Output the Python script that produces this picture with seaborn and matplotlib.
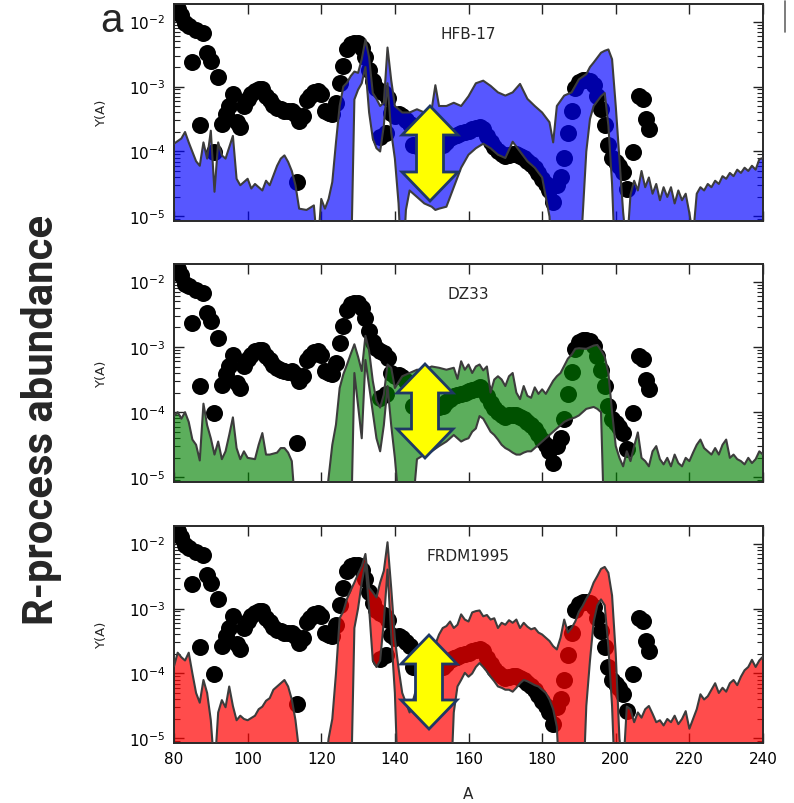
import numpy as np
import matplotlib
matplotlib.use("Agg")
import matplotlib.pyplot as plt
import seaborn as sns
from matplotlib.patches import Polygon
from matplotlib.lines import Line2D
from matplotlib.ticker import LogLocator, NullFormatter
from matplotlib import font_manager as fm

# ---------------- data (log10 of abundances) ----------------
# solar r-process abundances (black dots)
dots_A = [80, 81, 82, 83, 84, 85, 86, 87, 88, 89,
          90, 91, 92, 93, 94, 95, 96, 97, 98, 99,
          100, 101, 102, 103, 104, 105, 106, 107, 108, 109,
          110, 111, 112, 113, 113.3, 114, 115, 116, 117, 118,
          119, 120, 121, 122, 123, 124, 125, 126, 127, 128,
          129, 130, 131, 132, 133, 134, 135, 136, 136, 137,
          137.5, 138, 139, 140, 141, 142, 143, 144, 145, 146,
          147, 148, 149, 150, 151, 152, 153, 154, 155, 156,
          157, 158, 159, 160, 161, 162, 163, 164, 165, 166,
          167, 168, 169, 170, 171, 172, 173, 174, 175, 176,
          177, 178, 179, 180, 181, 182, 183, 184, 185, 186,
          187, 188, 189, 190, 191, 192, 193, 194, 195, 196,
          197, 198, 199, 200, 201, 202, 203, 204.6, 206.4, 207.3,
          208.2, 209.1]
dots_logY = [-1.72, -1.80, -1.90, -2.03, -2.07, -2.63, -2.13, -3.60, -2.17, -2.48,
             -2.60, -4.01, -2.86, -3.58, -3.42, -3.30, -3.12, -3.55, -3.63, -3.30,
             -3.19, -3.12, -3.07, -3.04, -3.04, -3.14, -3.20, -3.28, -3.33, -3.35,
             -3.37, -3.38, -3.37, -3.42, -4.47, -3.53, -3.45, -3.20, -3.14, -3.08,
             -3.07, -3.12, -3.37, -3.40, -3.42, -3.25, -2.94, -2.68, -2.43, -2.35,
             -2.33, -2.33, -2.40, -2.55, -2.75, -2.92, -3.02, -3.07, -3.78, -3.10,
             -3.72, -3.17, -3.40, -3.45, -3.43, -3.46, -3.52, -3.58, -3.90, -3.92,
             -3.95, -3.97, -3.97, -3.95, -3.93, -3.92, -3.90, -3.85, -3.80, -3.76,
             -3.74, -3.72, -3.70, -3.68, -3.66, -3.64, -3.62, -3.66, -3.76, -3.86,
             -3.93, -3.99, -4.04, -4.07, -4.05, -4.04, -4.04, -4.07, -4.10, -4.15,
             -4.20, -4.26, -4.33, -4.42, -4.50, -4.60, -4.78, -4.52, -4.40, -4.10,
             -3.72, -3.38, -3.03, -2.93, -2.90, -2.90, -2.91, -2.98, -3.14, -3.35,
             -3.60, -3.90, -4.10, -4.16, -4.22, -4.32, -4.57, -4.01, -3.14, -3.19,
             -3.50, -3.65]

# HFB-17 band
hfb_A = [80, 82, 83, 84, 86, 87, 88, 89, 90, 91,
         92, 93, 94, 96, 97, 98, 100, 101, 102, 104,
         105, 106, 108, 109, 110, 111, 112, 113, 114, 116,
         118, 119, 120, 121, 122, 123, 124, 125, 126, 127,
         128, 129, 130, 131, 132, 133, 134, 135, 136, 137,
         138, 139, 140, 141, 142, 143, 144, 146, 148, 150,
         151, 152, 154, 156, 158, 160, 162, 164, 166, 168,
         170, 172, 174, 176, 178, 180, 182, 183, 184, 186,
         188, 190, 191, 192, 193, 194, 196, 197, 198, 199,
         200, 201, 202, 203, 204, 205, 206, 207, 208, 209,
         210, 211, 212, 213, 214, 215, 216, 217, 218, 219,
         220, 221, 222, 223, 224, 225, 226, 227, 228, 229,
         230, 231, 232, 233, 234, 235, 236, 237, 238, 239, 240]
hfb_up = [-3.88, -3.80, -3.70, -3.86, -4.15, -4.22, -3.86, -4.11, -3.68, -4.62,
          -3.86, -4.06, -4.11, -3.76, -4.42, -4.52, -4.42, -4.57, -4.50, -4.60,
          -4.45, -4.52, -4.22, -4.11, -4.06, -4.16, -4.30, -4.52, -4.88, -4.90,
          -4.83, -5.50, -4.73, -4.88, -4.73, -4.47, -3.86, -3.30, -3.00, -2.94,
          -2.84, -2.77, -2.79, -2.58, -2.28, -2.55, -3.10, -3.19, -3.30, -3.25,
          -2.40, -2.90, -3.30, -3.35, -3.40, -3.40, -3.40, -3.35, -3.40, -3.35,
          -2.98, -3.30, -3.30, -3.25, -3.30, -3.15, -2.95, -2.91, -2.99, -3.09,
          -3.14, -3.09, -2.96, -3.19, -3.30, -3.40, -3.55, -3.86, -3.30, -3.14,
          -3.09, -2.89, -2.85, -2.81, -2.70, -2.63, -2.48, -2.45, -2.43, -2.58,
          -3.30, -4.11, -4.93, -5.50, -4.67, -4.45, -4.60, -4.30, -4.55, -4.40,
          -4.65, -4.50, -4.75, -4.55, -4.70, -4.55, -4.80, -4.60, -4.75, -4.65,
          -4.95, -5.30, -4.65, -4.55, -4.60, -4.50, -4.55, -4.45, -4.50, -4.38,
          -4.42, -4.33, -4.38, -4.28, -4.33, -4.25, -4.30, -4.22, -4.28, -4.12, -4.10]
hfb_lo = [-6] * 40 + [
          -6, -3.20, -3.05, -2.95, -2.70, -3.40, -3.80, -3.95, -4.00, -3.60,
          -2.95, -3.70, -4.11, -4.80, -6, -4.90, -4.60, -4.70, -4.80, -4.85,
          -4.90, -4.88, -4.85, -4.55, -4.25, -4.05, -3.95, -3.88, -3.95, -4.05,
          -4.10, -3.85, -4.00, -4.15, -4.25, -4.40, -5.00, -6, -6, -6,
          -6, -6, -5.00, -4.00, -3.50, -3.30, -3.15, -3.10, -3.60, -4.50] + [-6] * 41

# DZ33 band
dz_A = [80, 81, 82, 83, 84, 85, 86, 87, 88, 89,
        90, 91, 92, 93, 94, 95, 96, 97, 98, 99,
        100, 102, 103, 104, 105, 106, 108, 109, 110, 111,
        112, 113, 121, 122, 123, 124, 125, 126, 127, 128,
        129, 130, 131, 132, 133, 134, 135, 136, 137, 138,
        139, 140, 142, 144, 146, 148, 150, 152, 154, 156,
        157, 158, 159, 160, 161, 162, 163, 164, 165, 166,
        167, 168, 169, 170, 171, 172, 173, 174, 175, 176,
        177, 178, 179, 180, 181, 182, 183, 184, 185, 186,
        187, 188, 189, 190, 192, 194, 195, 196, 197, 198,
        199, 200, 201, 202, 203, 204, 205, 206, 207, 208,
        209, 210, 211, 212, 213, 214, 215, 216, 217, 218,
        219, 220, 221, 222, 223, 224, 225, 226, 227, 228,
        229, 230, 231, 232, 233, 234, 235, 236, 237, 238, 239, 240]
dz_up = [-4.06, -4.00, -4.10, -4.00, -4.15, -4.42, -4.50, -4.74, -3.87, -4.20,
         -4.40, -4.65, -4.45, -4.72, -4.60, -4.35, -4.08, -4.55, -4.72, -4.60,
         -4.70, -4.72, -4.50, -4.32, -4.65, -4.65, -4.62, -4.55, -4.55, -4.62,
         -4.75, -5.50, -5.50, -5.00, -4.50, -4.19, -3.63, -3.42, -3.27, -3.11,
         -2.96, -3.15, -3.37, -2.83, -3.06, -3.52, -3.83, -3.93, -3.73, -3.27,
         -3.32, -3.63, -3.45, -3.40, -3.35, -3.35, -3.30, -3.32, -3.35, -3.32,
         -3.49, -3.22, -3.35, -3.27, -3.40, -3.30, -3.27, -3.36, -3.30, -3.70,
         -3.50, -3.45, -3.50, -3.60, -3.45, -3.40, -3.70, -3.80, -3.60, -3.75,
         -3.78, -3.62, -3.72, -3.65, -3.72, -3.62, -3.52, -3.45, -3.40, -3.29,
         -3.18, -3.12, -3.03, -3.02, -3.03, -2.98, -2.97, -3.05, -3.15, -3.40,
         -4.00, -4.52, -4.70, -4.83, -4.60, -4.75, -4.52, -4.31, -4.70, -4.75,
         -4.83, -4.60, -4.52, -4.72, -4.80, -4.70, -4.83, -4.65, -4.78, -4.83,
         -4.70, -4.75, -4.62, -4.50, -4.42, -4.55, -4.60, -4.65, -4.55, -4.65,
         -4.50, -4.42, -4.70, -4.65, -4.72, -4.75, -4.80, -4.70, -4.78, -4.72, -4.60, -4.65]
dz_lo = [-6] * 40 + [
         -3.40, -3.90, -4.40, -3.20, -3.60, -4.00, -4.40, -4.60, -4.20, -3.60,
         -4.20, -4.70, -6, -6, -4.72, -4.65, -4.60, -4.52, -4.45, -4.35,
         -4.40, -4.45, -4.42, -4.40, -4.30, -4.25, -4.06, -4.10, -4.20, -4.30,
         -4.35, -4.42, -4.50, -4.55, -4.58, -4.62, -4.65, -4.65, -4.62, -4.60,
         -4.60, -4.55, -4.50, -4.45, -4.40, -4.35, -4.30, -4.25, -4.20, -4.15,
         -4.12, -4.10, -4.08, -4.05, -3.95, -3.92, -3.95, -4.00, -6, -6] + [-6] * 42

# FRDM1995 band
fr_A = [80, 81, 82, 83, 84, 85, 86, 87, 88, 89,
        90, 91, 92, 93, 94, 95, 96, 97, 98, 99,
        100, 102, 103, 104, 105, 106, 107, 108, 109, 110,
        111, 112, 113, 114, 115, 121, 122, 123, 124, 125,
        126, 127, 128, 129, 130, 131, 132, 133, 134, 135,
        136, 137, 138, 139, 140, 141, 142, 144, 146, 148,
        150, 152, 153, 154, 155, 156, 157, 158, 159, 160,
        161, 162, 163, 164, 165, 166, 167, 168, 169, 170,
        171, 172, 173, 174, 175, 176, 177, 178, 179, 180,
        181, 182, 183, 184, 185, 186, 187, 188, 189, 190,
        191, 192, 193, 194, 195, 196, 197, 198, 199, 200,
        201, 202, 203, 204, 205, 206, 207, 208, 209, 210,
        211, 212, 213, 214, 215, 216, 217, 218, 219, 220,
        221, 222, 223, 224, 225, 226, 227, 228, 229, 230,
        231, 232, 233, 234, 235, 236, 237, 238, 239, 240]
fr_up = [-3.89, -3.68, -3.75, -3.80, -3.68, -4.00, -4.30, -4.45, -4.10, -4.30,
         -4.72, -5.50, -4.60, -4.41, -4.52, -4.20, -4.50, -4.72, -4.65, -4.70,
         -4.72, -4.65, -4.55, -4.51, -4.42, -4.38, -4.25, -4.20, -4.15, -4.10,
         -4.20, -4.40, -4.72, -5.20, -5.50, -5.50, -5.00, -4.70, -4.00, -3.15,
         -3.04, -2.85, -2.72, -2.60, -2.47, -2.35, -2.16, -2.68, -2.75, -2.83,
         -2.60, -2.42, -1.98, -2.68, -3.46, -3.92, -4.30, -4.60, -4.20, -4.00,
         -3.70, -3.40, -3.30, -3.27, -3.20, -3.30, -3.25, -3.09, -3.17, -3.20,
         -3.06, -3.04, -3.03, -3.12, -3.10, -3.17, -3.15, -3.30, -3.22, -3.25,
         -3.18, -3.22, -3.17, -3.30, -3.22, -3.28, -3.32, -3.30, -3.37, -3.40,
         -3.45, -3.50, -3.58, -3.63, -3.45, -3.17, -3.37, -3.30, -3.20, -3.05,
         -2.96, -2.85, -2.75, -2.60, -2.50, -2.39, -2.36, -2.45, -2.80, -3.70,
         -5.00, -5.50, -4.51, -4.55, -4.75, -4.60, -4.68, -4.55, -4.50, -4.62,
         -4.75, -4.72, -4.80, -4.70, -4.75, -4.65, -4.78, -4.70, -4.58, -4.85,
         -4.70, -4.55, -4.32, -4.40, -4.35, -4.25, -4.15, -4.30, -4.22, -4.28,
         -4.15, -4.10, -4.18, -4.05, -3.95, -3.90, -3.79, -3.90, -3.80, -3.74]
fr_lo = [-6] * 40 + [
         -6, -6, -6, -3.30, -3.00, -2.60, -2.30, -3.00, -3.80, -3.90,
         -3.80, -3.20, -2.40, -3.40, -4.30, -6, -6, -6, -6, -6,
         -6, -6, -6, -6, -6, -4.60, -4.20, -4.10, -3.99, -4.05,
         -4.00, -3.90, -3.84, -3.90, -3.97, -4.05, -4.12, -4.20, -4.22, -4.25,
         -4.25, -4.28, -4.22, -4.15, -4.10, -4.12, -4.15, -4.18, -4.20, -4.25,
         -4.30, -4.40, -4.55, -4.82, -6, -6, -6, -6, -6, -6,
         -6, -4.50, -3.80, -3.20, -2.95, -2.86, -2.95, -3.60, -4.50, -6] + [-6] * 40

panel_names = ["HFB-17", "DZ33", "FRDM1995"]
panel_colors = ["#0000ff", "#008000", "#ff0000"]
panel_alpha = [0.66, 0.64, 0.70]
x_ticks = [80, 100, 120, 140, 160, 180, 200, 220, 240]

# ---------------- style ----------------
sns.set_style("ticks")
plt.rcParams["font.family"] = ["DejaVu Sans"]
plt.rcParams["mathtext.fontset"] = "dejavusans"


def has_font(name):
    try:
        fm.findfont(fm.FontProperties(family=name), fallback_to_default=False)
        return True
    except Exception:
        return False


W, H = 794, 804
fig = plt.figure(figsize=(W / 100, H / 100), dpi=100)


def fx(px):
    return px / W


def fy(py):
    return 1 - py / H


panel_px = [(5, 222), (265, 483), (527, 744)]
left_px, right_px = 174, 763

bands = [(hfb_A, hfb_up, hfb_lo), (dz_A, dz_up, dz_lo), (fr_A, fr_up, fr_lo)]
dA = np.array(dots_A)
dY = 10 ** np.array(dots_logY)

axes = []
for i, (top, bot) in enumerate(panel_px):
    ax = fig.add_axes([fx(left_px), fy(bot), fx(right_px) - fx(left_px), fy(top) - fy(bot)])
    axes.append(ax)
    A, up, lo = bands[i]
    assert len(A) == len(up) == len(lo), (i, len(A), len(up), len(lo))
    A = np.array(A, dtype=float)
    up = 10 ** np.array(up)
    lo = 10 ** np.array(lo)
    sns.scatterplot(x=dA, y=dY, ax=ax, s=150, color="black", linewidth=0,
                    legend=False, zorder=1)
    ax.fill_between(A, lo, up, facecolor=panel_colors[i], alpha=panel_alpha[i],
                    edgecolor="none", zorder=2)
    ax.plot(A, up, color="#3c3c3c", lw=1.5, zorder=3)
    ax.plot(A, lo, color="#3c3c3c", lw=1.5, zorder=3)
    ax.set_yscale("log")
    ax.set_xlim(80, 240)
    ax.set_ylim(10 ** -5.07, 10 ** -1.73)
    ax.set_xticks(x_ticks)
    ax.yaxis.set_major_locator(LogLocator(base=10, numticks=10))
    ax.yaxis.set_minor_locator(LogLocator(base=10, subs=np.arange(2, 10), numticks=20))
    ax.yaxis.set_minor_formatter(NullFormatter())
    ax.tick_params(which="both", direction="in", top=True, right=True,
                   colors="#222222", labelcolor="black", labelsize=11, pad=6)
    ax.tick_params(which="major", length=7, width=1)
    ax.tick_params(which="minor", length=4, width=0.8)
    ax.tick_params(axis="x", which="minor", top=False, bottom=False)
    for sp in ax.spines.values():
        sp.set_color("#2a2a2a")
        sp.set_linewidth(1.4)
    ax.set_xlabel("")
    ax.set_ylabel("Y(A)", fontsize=9.5)
    ax.yaxis.set_label_coords(-(left_px - 108) / (right_px - left_px), 0.5)
    if i < 2:
        ax.tick_params(axis="x", labelbottom=False)
    ax.text(0.5, 0.865, panel_names[i], transform=ax.transAxes, ha="center",
            va="center", fontsize=11)

fig.text(fx(468), fy(795), "A", ha="center", va="center", fontsize=11)

# yellow double arrows
arrows_px = [(430, 107, 202), (425, 365, 459), (429, 636, 730)]
hw, sw, hl = 56, 27, 29
for xc, yt, yb in arrows_px:
    pts = [(xc, yt), (xc + hw / 2, yt + hl), (xc + sw / 2, yt + hl),
           (xc + sw / 2, yb - hl), (xc + hw / 2, yb - hl), (xc, yb),
           (xc - hw / 2, yb - hl), (xc - sw / 2, yb - hl),
           (xc - sw / 2, yt + hl), (xc - hw / 2, yt + hl)]
    poly = Polygon([(fx(x), fy(y)) for x, y in pts], closed=True,
                   facecolor="#ffff00", edgecolor="#1f3864", lw=2,
                   transform=fig.transFigure, zorder=20, joinstyle="miter")
    fig.add_artist(poly)

# panel letter and big label
a_family = ["Liberation Sans", "DejaVu Sans"]
fig.text(fx(111), fy(21), "a", ha="center", va="center", fontsize=29, family=a_family)

if has_font("Liberation Sans Narrow"):
    big_family = "Liberation Sans Narrow"
elif has_font("Roboto"):
    big_family = "Roboto"
else:
    big_family = "Open Sans"
big = fig.text(fx(42), fy(420), "R-process abundance", rotation=90, ha="center",
               va="center", fontsize=28, weight="bold", family=[big_family, "DejaVu Sans"])
fig.canvas.draw()
bb = big.get_window_extent()
big.set_fontsize(28 * 410.0 / bb.height)

fig.add_artist(Line2D([fx(785), fx(785)], [fy(2), fy(33)], color="#666666", lw=1.2,
                      transform=fig.transFigure))

fig.savefig("out.png", dpi=100)
